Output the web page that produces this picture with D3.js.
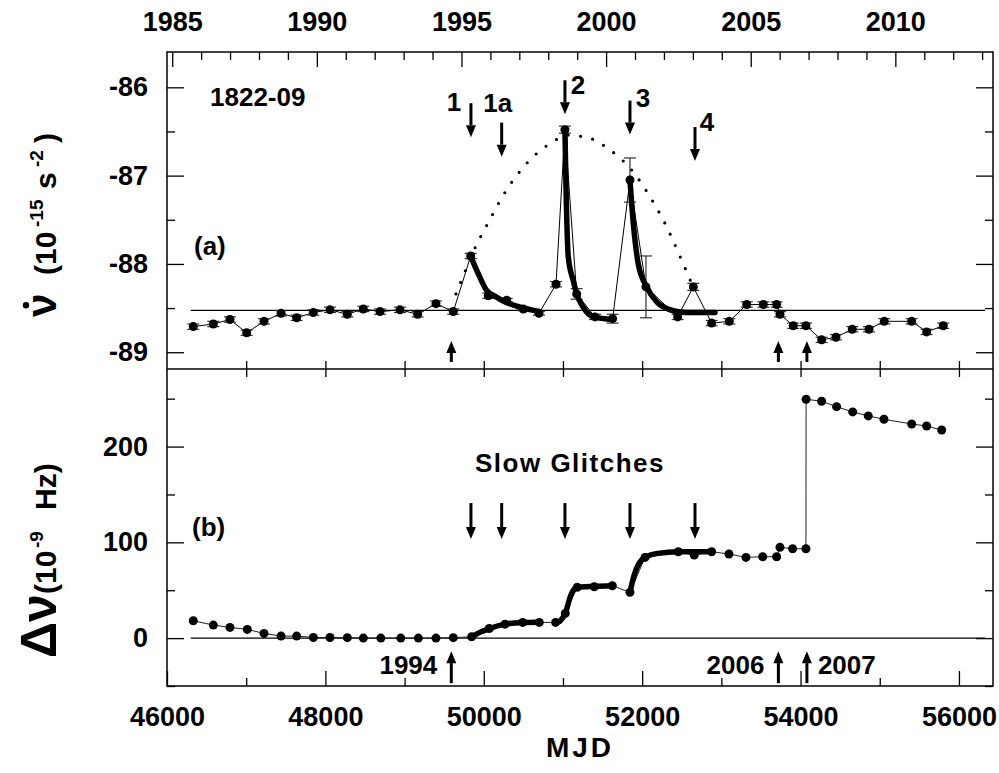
<!DOCTYPE html>
<html>
<head>
<meta charset="utf-8">
<script src="https://cdn.jsdelivr.net/npm/d3@7"></script>
<style>
  body { margin: 0; background: #fff; }
  svg text { font-family: "Liberation Sans", Arial, sans-serif; font-weight: bold; fill: #000; }
</style>
</head>
<body>
<div id="chart"></div>
<script>
// ---- data ----
// panel (a): nu-dot, 1e-15 s^-2
const mjdA = [46332, 46585, 46795, 47006, 47225, 47440, 47637, 47848, 48058, 48277,
    48479, 48690, 48942, 49165, 49396, 49615, 49835, 50057, 50289, 50499,
    50697, 50912, 51025, 51173, 51404, 51627, 51846, 52048, 52448, 52646,
    52877, 53100, 53320, 53530, 53698, 53740, 53908, 54068, 54266, 54447,
    54653, 54864, 55057, 55403, 55592, 55802]
const nudotA = [-88.71, -88.68, -88.63, -88.78, -88.65, -88.56, -88.61, -88.55, -88.52, -88.57,
    -88.51, -88.54, -88.52, -88.57, -88.45, -88.54, -87.91, -88.36, -88.41, -88.51,
    -88.56, -88.23, -86.48, -88.34, -88.60, -88.62, -87.05, -88.26, -88.60, -88.26,
    -88.67, -88.65, -88.46, -88.46, -88.46, -88.57, -88.70, -88.70, -88.86, -88.83,
    -88.74, -88.74, -88.65, -88.65, -88.77, -88.70]
const errA = [0.03, 0.03, 0.03, 0.03, 0.03, 0.03, 0.03, 0.03, 0.03, 0.03,
    0.03, 0.03, 0.03, 0.03, 0.03, 0.03, 0.03, 0.03, 0.02, 0.02,
    0.02, 0.03, 0.04, 0.06, 0.03, 0.05, 0.25, 0.35, 0.03, 0.04,
    0.03, 0.03, 0.03, 0.03, 0.03, 0.03, 0.03, 0.03, 0.03, 0.03,
    0.03, 0.03, 0.03, 0.03, 0.03, 0.03]
const refA = -88.525

// recovery fits (thick) and the dotted envelope, [mjd, nudot]
const fitA1 = [[49847, -87.94], [49950, -88.15], [50036, -88.30], [50150, -88.37], [50246, -88.42], [50457, -88.49], [50710, -88.54]]
const fitA2 = [[51025, -86.49], [51040, -87.2], [51067, -87.92], [51130, -88.19], [51173, -88.34], [51256, -88.49], [51383, -88.60], [51636, -88.63]]
const fitA3 = [[51846, -87.05], [51888, -87.54], [51951, -88.00], [52057, -88.26], [52183, -88.43], [52393, -88.53], [52562, -88.55], [52920, -88.55]]
const envelope = [[49649, -88.34], [49775, -88.06], [49910, -87.78], [50070, -87.51], [50234, -87.24],
    [50423, -86.99], [50655, -86.76], [50920, -86.59], [51088, -86.54], [51256, -86.56],
    [51425, -86.61], [51707, -86.79], [51930, -87.01], [52120, -87.27], [52288, -87.54],
    [52427, -87.81], [52562, -88.09], [52625, -88.22]]

// panel (b): delta nu, 1e-9 Hz
const mjdB = [46332, 46585, 46795, 47014, 47225, 47440, 47637, 47848, 48058, 48277,
    48479, 48700, 48952, 49174, 49396, 49615, 49847, 50069, 50268, 50491,
    50701, 50907, 51029, 51180, 51395, 51623, 51846, 52036, 52456, 52658,
    52877, 53096, 53311, 53522, 53698, 53740, 53900, 54068, 54070, 54266,
    54455, 54658, 54855, 55053, 55403, 55592, 55782]
const dnuB = [18.1, 13.6, 11.2, 9.1, 4.9, 2.1, 2.1, 0.7, 0.7, 0.5,
    0, 0, 0, 0, 0, 0.5, 1.4, 10, 14.6, 16.4,
    16.4, 16.4, 25.8, 53, 53.6, 54.7, 47.8, 84.3, 90.2, 86.7,
    90.2, 87.8, 84.3, 85, 85, 94.8, 93.3, 93.3, 249.4, 247.3,
    241.7, 236.2, 232, 228.5, 223.6, 221.5, 217.3]
const fitB1 = [[49847, 1.4], [49950, 6], [50069, 10], [50268, 14.6], [50491, 16.4], [50701, 16.6]]
const fitB2 = [[50960, 17.5], [51029, 25.8], [51100, 45], [51180, 53], [51395, 54], [51623, 54.7]]
const fitB3 = [[51846, 47.8], [51900, 66], [51960, 78], [52036, 84.3], [52200, 88.5], [52456, 90.2], [52877, 90.2]]

// annotations
const glitchMJD = [49838, 50226, 51025, 51846, 52667]
const glitchNames = ["1", "1a", "2", "3", "4"]
const glitchTopA = [-86.18, -86.40, -85.92, -86.15, -86.45]
const slowTopB = 141
const eventMJD = [49590, 53720, 54080]
const eventNames = ["1994", "2006", "2007"]

// axes
const ticksA = [-86, -87, -88, -89]
const minorA = [-86.5, -87.5, -88.5]
const ticksB = [0, 100, 200]
const minorB = [-50, 50, 150, 250]
const ticksX = [46000, 48000, 50000, 52000, 54000, 56000]
const minorX = [47000, 49000, 51000, 53000, 55000]
const years = [1985, 1990, 1995, 2000, 2005, 2010]

const width = 999, height = 773,
    left = 167, right = 993, top_ = 52, mid = 369, bottom = 686,
    dot_r = 4.5, thick = 5.5, font_size = "27px"

const svg = d3.select("#chart").append("svg")
    .attr("width", width).attr("height", height)

const x = d3.scaleLinear().domain([46000, 56430]).range([left, right])
const yA = d3.scaleLinear().domain([-89.19, -85.6]).range([mid, top_])
const yB = d3.scaleLinear().domain([-50, 281]).range([bottom, mid])
const yearToMJD = yr => 51544.5 + (yr - 2000) * 365.25

function styleAxis(g) {
    g.select(".domain").remove()
    g.selectAll("line").attr("stroke", "#000").attr("stroke-width", 1.3)
    g.selectAll("text").style("font-size", font_size).attr("fill", "#000")
}

// ---- frames ----
svg.append("rect").attr("x", left).attr("y", top_)
    .attr("width", right - left).attr("height", bottom - top_)
    .attr("fill", "none").attr("stroke", "#000").attr("stroke-width", 1.5)
svg.append("line").attr("x1", left).attr("x2", right).attr("y1", mid).attr("y2", mid)
    .attr("stroke", "#000").attr("stroke-width", 1.5)

// ---- axes ----
svg.append("g").attr("transform", `translate(${left},0)`)
    .call(d3.axisLeft(yA).tickValues(ticksA).tickSize(-17).tickPadding(19).tickFormat(d => String(d)))
    .call(styleAxis)
svg.append("g").attr("transform", `translate(${left},0)`)
    .call(d3.axisLeft(yA).tickValues(minorA).tickSize(-8).tickFormat(""))
    .call(styleAxis)
svg.append("g").attr("transform", `translate(${left},0)`)
    .call(d3.axisLeft(yB).tickValues(ticksB).tickSize(-17).tickPadding(19).tickFormat(d => String(d)))
    .call(styleAxis)
svg.append("g").attr("transform", `translate(${left},0)`)
    .call(d3.axisLeft(yB).tickValues(minorB).tickSize(-8).tickFormat(""))
    .call(styleAxis)

svg.append("g").attr("transform", `translate(${right},0)`)
    .call(d3.axisRight(yA).tickValues(ticksA).tickSize(-17).tickFormat(""))
    .call(styleAxis)
svg.append("g").attr("transform", `translate(${right},0)`)
    .call(d3.axisRight(yA).tickValues(minorA).tickSize(-8).tickFormat(""))
    .call(styleAxis)
svg.append("g").attr("transform", `translate(${right},0)`)
    .call(d3.axisRight(yB).tickValues(ticksB).tickSize(-17).tickFormat(""))
    .call(styleAxis)
svg.append("g").attr("transform", `translate(${right},0)`)
    .call(d3.axisRight(yB).tickValues(minorB).tickSize(-8).tickFormat(""))
    .call(styleAxis)

svg.append("g").attr("transform", `translate(0,${bottom})`)
    .call(d3.axisBottom(x).tickValues(ticksX).tickSize(-15).tickPadding(21).tickFormat(d => String(d)))
    .call(styleAxis)
svg.append("g").attr("transform", `translate(0,${bottom})`)
    .call(d3.axisBottom(x).tickValues(minorX).tickSize(-8).tickFormat(""))
    .call(styleAxis)

// ticks on both sides of the panel divider
svg.append("g").attr("transform", `translate(0,${mid})`)
    .call(d3.axisBottom(x).tickValues(d3.range(47000, 56001, 1000)).tickSize(-8).tickFormat(""))
    .call(styleAxis)
svg.append("g").attr("transform", `translate(0,${mid})`)
    .call(d3.axisTop(x).tickValues(d3.range(47000, 56001, 1000)).tickSize(-8).tickFormat(""))
    .call(styleAxis)

// top axis in calendar years
svg.append("g").attr("transform", `translate(0,${top_})`)
    .call(d3.axisTop(x).tickValues(years.map(yearToMJD)).tickSize(-15).tickPadding(21)
        .tickFormat((d, i) => String(years[i])))
    .call(styleAxis)
svg.append("g").attr("transform", `translate(0,${top_})`)
    .call(d3.axisTop(x).tickValues(d3.range(1986, 2014).filter(v => v % 5).map(yearToMJD))
        .tickSize(-8).tickFormat(""))
    .call(styleAxis)

// ---- reference lines ----
svg.append("line").attr("x1", x(46300)).attr("x2", x(56330))
    .attr("y1", yA(refA)).attr("y2", yA(refA)).attr("stroke", "#000").attr("stroke-width", 1.3)
svg.append("line").attr("x1", x(46300)).attr("x2", x(56330))
    .attr("y1", yB(0)).attr("y2", yB(0)).attr("stroke", "#000").attr("stroke-width", 1.3)

// ---- panel (a) ----
const ptsA = mjdA.map((m, i) => ({mjd: m, v: nudotA[i], e: errA[i]}))

svg.append("path").datum(envelope)
    .attr("d", d3.line().x(d => x(d[0])).y(d => yA(d[1])).curve(d3.curveNatural))
    .attr("fill", "none").attr("stroke", "#000").attr("stroke-width", 3.2)
    .attr("stroke-linecap", "round").attr("stroke-dasharray", "0 12.5")

svg.append("path").datum(ptsA)
    .attr("d", d3.line().x(d => x(d.mjd)).y(d => yA(d.v)))
    .attr("fill", "none").attr("stroke", "#000").attr("stroke-width", 1)

let errG = svg.append("g").attr("stroke", "#333").attr("stroke-width", 1.2)
errG.selectAll(".ev").data(ptsA).enter().append("line")
    .attr("x1", d => x(d.mjd)).attr("x2", d => x(d.mjd))
    .attr("y1", d => yA(d.v - d.e)).attr("y2", d => yA(d.v + d.e))
errG.selectAll(".et").data(ptsA).enter().append("line")
    .attr("x1", d => x(d.mjd) - 6).attr("x2", d => x(d.mjd) + 6)
    .attr("y1", d => yA(d.v + d.e)).attr("y2", d => yA(d.v + d.e))
errG.selectAll(".eb").data(ptsA).enter().append("line")
    .attr("x1", d => x(d.mjd) - 6).attr("x2", d => x(d.mjd) + 6)
    .attr("y1", d => yA(d.v - d.e)).attr("y2", d => yA(d.v - d.e))

const fitLineA = d3.line().x(d => x(d[0])).y(d => yA(d[1])).curve(d3.curveMonotoneX)
svg.selectAll(".fitA").data([fitA1, fitA2, fitA3]).enter().append("path")
    .attr("d", fitLineA).attr("fill", "none").attr("stroke", "#000")
    .attr("stroke-width", thick).attr("stroke-linecap", "round")

svg.append("g").selectAll("circle").data(ptsA).enter().append("circle")
    .attr("cx", d => x(d.mjd)).attr("cy", d => yA(d.v)).attr("r", dot_r).attr("fill", "#000")

// ---- panel (b) ----
const ptsB = mjdB.map((m, i) => ({mjd: m, v: dnuB[i]}))
svg.append("path").datum(ptsB)
    .attr("d", d3.line().x(d => x(d.mjd)).y(d => yB(d.v)))
    .attr("fill", "none").attr("stroke", "#222").attr("stroke-width", 1)

const fitLineB = d3.line().x(d => x(d[0])).y(d => yB(d[1])).curve(d3.curveMonotoneX)
svg.selectAll(".fitB").data([fitB1, fitB2, fitB3]).enter().append("path")
    .attr("d", fitLineB).attr("fill", "none").attr("stroke", "#000")
    .attr("stroke-width", thick).attr("stroke-linecap", "round")

svg.append("g").selectAll("circle").data(ptsB).enter().append("circle")
    .attr("cx", d => x(d.mjd)).attr("cy", d => yB(d.v)).attr("r", dot_r).attr("fill", "#000")

// ---- arrows ----
function arrow(px, y1, y2) {
    // shaft from y1 to y2, head at y2
    let dir = y2 > y1 ? 1 : -1, head = 12
    svg.append("line").attr("x1", px).attr("x2", px)
        .attr("y1", y1).attr("y2", y2 - dir * head)
        .attr("stroke", "#000").attr("stroke-width", 3)
    svg.append("path")
        .attr("d", `M${px - 5},${y2 - dir * head} L${px + 5},${y2 - dir * head} L${px},${y2} Z`)
        .attr("fill", "#000")
}

const labelOff = [[-17, -1], [-4, -20], [13, 5], [13, -3], [12, -5]]
glitchMJD.forEach((m, i) => {
    let top = yA(glitchTopA[i])
    arrow(x(m), top, top + 34)
    svg.append("text").attr("x", x(m) + labelOff[i][0]).attr("y", top + labelOff[i][1])
        .attr("text-anchor", "middle").attr("dy", "0.35em")
        .style("font-size", "26px").text(glitchNames[i])
    arrow(x(m), yB(slowTopB), yB(slowTopB) + 36)
})

eventMJD.forEach((m, i) => {
    arrow(x(m), yA(-89.11), yA(-89.11) - 21)
    arrow(x(m), yB(-47), yB(-47) - 32)
    svg.append("text")
        .attr("x", i < 2 ? x(m) - 14 : x(m) + 11)
        .attr("y", yB(-28)).attr("dy", "0.35em")
        .attr("text-anchor", i < 2 ? "end" : "start")
        .style("font-size", "26px").text(eventNames[i])
})

// ---- labels ----
svg.append("text").attr("x", 210).attr("y", 106).style("font-size", "26px").text("1822-09")
svg.append("text").attr("x", 194).attr("y", 255).style("font-size", "26px").text("(a)")
svg.append("text").attr("x", 192).attr("y", 536).style("font-size", "26px").text("(b)")
svg.append("text").attr("x", 570).attr("y", yB(183)).attr("dy", "0.35em")
    .attr("text-anchor", "middle").style("font-size", "26px").style("letter-spacing", "1.5px")
    .text("Slow Glitches")

svg.append("text").attr("x", (left + right) / 2).attr("y", 757)
    .attr("text-anchor", "middle").style("font-size", "28px").style("letter-spacing", "3px")
    .text("MJD")

// y titles, rotated; pieces placed along the rotated baseline
let gA = svg.append("g").attr("transform", "translate(56,323) rotate(-90)")
let tA = gA.append("text").style("font-size", "30px")
tA.append("tspan").attr("x", 6).style("font-size", "42px").text("\u03BD")
tA.append("tspan").attr("x", 48).text("(10")
tA.append("tspan").attr("x", 96).attr("dy", -13).style("font-size", "19px").text("-15")
tA.append("tspan").attr("x", 134).attr("dy", 13).text("s")
tA.append("tspan").attr("x", 156).attr("dy", -13).style("font-size", "19px").text("-2")
tA.append("tspan").attr("x", 180).attr("dy", 13).text(")")
// the dot over nu
let nuBox = tA.node().getExtentOfChar(0)
gA.append("circle").attr("cx", nuBox.x + nuBox.width / 2).attr("cy", -30).attr("r", 3.2).attr("fill", "#000")

let gB = svg.append("g").attr("transform", "translate(56,658) rotate(-90)")
let tB = gB.append("text").style("font-size", "30px")
tB.append("tspan").attr("x", 0).style("font-size", "50px").text("\u0394\u03BD")
tB.append("tspan").attr("x", 64).text("(10")
tB.append("tspan").attr("x", 110).attr("dy", -13).style("font-size", "19px").text("-9")
tB.append("tspan").attr("x", 148).attr("dy", 13).text("Hz)")
</script>
</body>
</html>
